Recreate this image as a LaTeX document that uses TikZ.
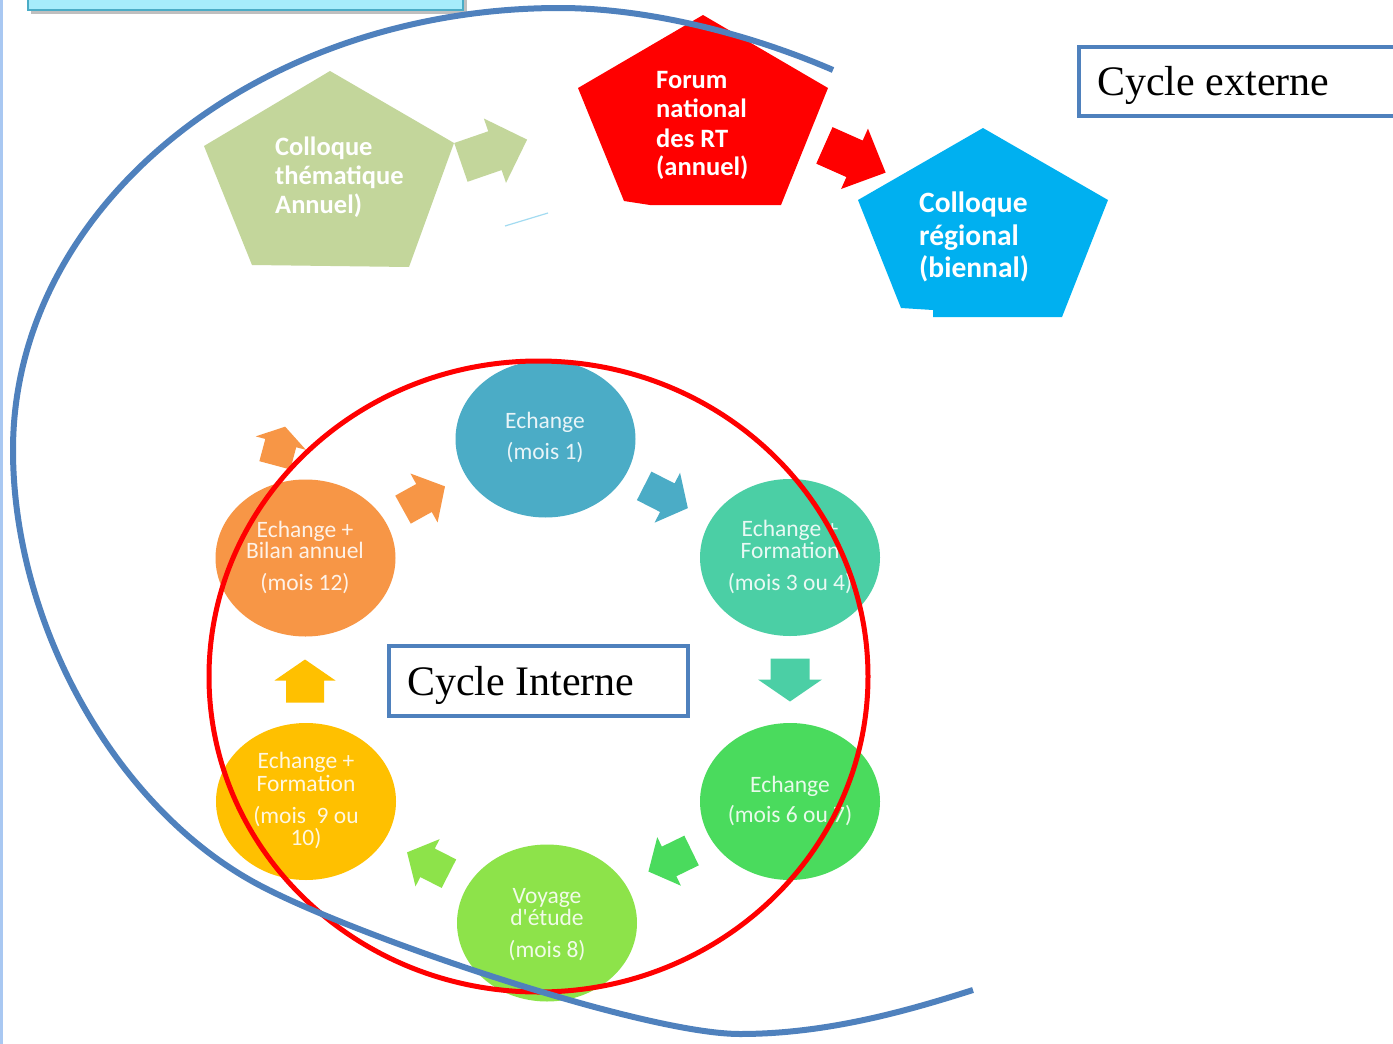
\documentclass[tikz,border=0pt]{standalone}
\usepackage{fontspec}
\setmainfont{Liberation Serif}
\newfontfamily\calib{Carlito}
\usetikzlibrary{shapes.geometric}
\definecolor{spiralblue}{HTML}{4F81BD}
\definecolor{boxblue}{HTML}{4F81BD}
\definecolor{topcyan}{HTML}{A6ECFB}
\definecolor{topcyanedge}{HTML}{4BACC6}
\definecolor{pgreen}{HTML}{C3D69B}
\definecolor{pred}{HTML}{FF0000}
\definecolor{pblue}{HTML}{00B0F0}
\definecolor{cone}{HTML}{4BACC6}
\definecolor{cthree}{HTML}{4BCFA5}
\definecolor{csix}{HTML}{4ADB5D}
\definecolor{ceight}{HTML}{8DE34A}
\definecolor{cten}{HTML}{FFC000}
\definecolor{ctwelve}{HTML}{F79646}
\definecolor{faintline}{HTML}{8CD3EE}
\definecolor{leftstrip}{HTML}{A9C8F2}
% name, x, y, angle, colour, length, head width, shaft width, head length
\newcommand{\blockarrow}[9]{%
  \coordinate (#1) at (#2,#3);
  \fill[#5, shift={(#2,#3)}, rotate=#4]
    (-#6/2,-#8/2) -- (#6/2-#9,-#8/2) -- (#6/2-#9,-#7/2) -- (#6/2,0)
    -- (#6/2-#9,#7/2) -- (#6/2-#9,#8/2) -- (-#6/2,#8/2) -- cycle;}
\begin{document}
\begin{tikzpicture}[x=1pt,y=-1pt,
  cyc/.style={ellipse, draw=none, inner sep=0pt, minimum width=180pt, minimum height=157pt},
  ctext/.style={font=\calib\fontsize{23.5}{24}\selectfont, text=white, text opacity=0.88, inner sep=0pt, anchor=base},
  ptext/.style={font=\calib\bfseries\fontsize{26.5}{27}\selectfont, text=white, inner sep=0pt, anchor=base west},
  pbtext/.style={font=\calib\bfseries\fontsize{29.5}{30}\selectfont, text=white, inner sep=0pt, anchor=base west},
  cyclabel/.style={font=\fontsize{42}{42}\selectfont, inner sep=0pt, anchor=base west},
  labelbox/.style={draw=boxblue, line width=4.5pt, fill=white}
]
\useasboundingbox (0,0) rectangle (1393,1044);
\clip (0,0) rectangle (1393,1044);
\fill[white] (0,0) rectangle (1393,1044);

% left strip
\fill[leftstrip] (0,0) rectangle (2.5,1044);

% partial top-left box
\fill[black, opacity=0.25] (31,-5) rectangle (467,14);
\draw[fill=topcyan, draw=topcyanedge, line width=1.5pt] (28,-5) rectangle (463,10);

% pentagons
\fill[pgreen] (330,71) -- (454,143) -- (409,267) -- (252,265) -- (204,146) -- cycle;
\fill[pred] (703,15) -- (828,88) -- (781,205) -- (650,205) -- (624,201) -- (578,88) -- cycle;
\fill[pblue] (983,128) -- (1108,200) -- (1062,317) -- (933,317) -- (933,310) -- (901,308) -- (858,200) -- cycle;

\node[ptext] (g1) at (275,155) {Colloque};
\node[ptext] (g2) at (275,184) {thématique};
\node[ptext] (g3) at (275,213) {Annuel)};
\node[ptext] (r1) at (656,88) {Forum};
\node[ptext] (r2) at (656,117) {national};
\node[ptext] (r3) at (656,147) {des RT};
\node[ptext] (r4) at (656,175) {(annuel)};
\node[pbtext] (b1) at (919,212) {Colloque};
\node[pbtext] (b2) at (919,245) {régional};
\node[pbtext] (b3) at (919,277) {(biennal)};

% pentagon arrows
\blockarrow{ag}{494}{151}{19}{pgreen}{70}{68}{41}{34}
\blockarrow{ar}{855}{159}{-24}{pred}{67}{66}{40}{34}

% faint stroke
\draw[faintline, line width=1.2pt, opacity=0.8] (505,226) -- (548,213);

% cycle arrows
\blockarrow{atop}{280}{446}{75}{ctwelve}{40}{52}{32}{17}
\blockarrow{a12}{424}{498}{29}{ctwelve}{48}{56}{32}{24}
\blockarrow{a1}{666}{497}{-27}{cone}{49}{56}{32}{23}
\blockarrow{a3}{790}{680}{-90}{cthree}{43}{64}{39}{22}
\blockarrow{a6}{670}{861}{206}{csix}{48}{54}{33}{23}
\blockarrow{a8}{428}{863}{153}{ceight}{47}{53}{32}{23}
\blockarrow{a10}{305}{681}{90}{cten}{43}{61}{38}{21}

% cycle circles
\node[cyc, fill=cone] (c1) at (545.5,439) {};
\node[cyc, fill=cthree] (c3) at (790,557.5) {};
\node[cyc, fill=csix] (c6) at (790,801.5) {};
\node[cyc, fill=ceight] (c8) at (547,923) {};
\node[cyc, fill=cten] (c10) at (306,801.5) {};
\node[cyc, fill=ctwelve] (c12) at (305.5,558) {};

\node[ctext] (t1a) at (545,428) {Echange};
\node[ctext] (t1b) at (545,459) {(mois 1)};
\node[ctext] (t3a) at (790,536) {Echange +};
\node[ctext] (t3b) at (790,558) {Formation};
\node[ctext] (t3c) at (790,590) {(mois 3 ou 4)};
\node[ctext] (t6a) at (790,792) {Echange};
\node[ctext] (t6b) at (790,822) {(mois 6 ou 7)};
\node[ctext] (t8a) at (547,903) {Voyage};
\node[ctext] (t8b) at (547,925) {d'étude};
\node[ctext] (t8c) at (547,957) {(mois 8)};
\node[ctext] (t10a) at (306,768) {Echange +};
\node[ctext] (t10b) at (306,791) {Formation};
\node[ctext] (t10c) at (306,823) {(mois\ \ 9 ou};
\node[ctext] (t10d) at (306,845) {10)};
\node[ctext] (t12a) at (305,537) {Echange +};
\node[ctext] (t12b) at (305,558) {Bilan annuel};
\node[ctext] (t12c) at (305,590) {(mois 12)};

% label boxes
\draw[labelbox] (389,646) rectangle (688,716);
\node[cyclabel] (ci) at (407,695) {Cycle Interne};
\draw[labelbox] (1079,47) rectangle (1405,116);
\node[cyclabel] (ce) at (1097,95) {Cycle externe};

% inner cycle ring
\node[ellipse, draw=red, line width=5pt, inner sep=0pt, minimum width=659pt, minimum height=631pt] (ring) at (538.5,676.5) {};

% outer spiral
\coordinate (sp0) at (833,70);
\coordinate (sp1) at (560,8);
\coordinate (sp2) at (13,450);
\coordinate (sp3) at (250,880);
\coordinate (sp4) at (740,1034);
\coordinate (sp5) at (973,990);
\draw[spiralblue, line width=6pt]
  (sp0) .. controls (740,30) and (640,8) .. (sp1)
        .. controls (258,8) and (13,206) .. (sp2)
        .. controls (13,620) and (111,801) .. (sp3)
        .. controls (337,930) and (640,1034) .. (sp4)
        .. controls (830,1034) and (913,1009) .. (sp5);
\end{tikzpicture}
\end{document}
